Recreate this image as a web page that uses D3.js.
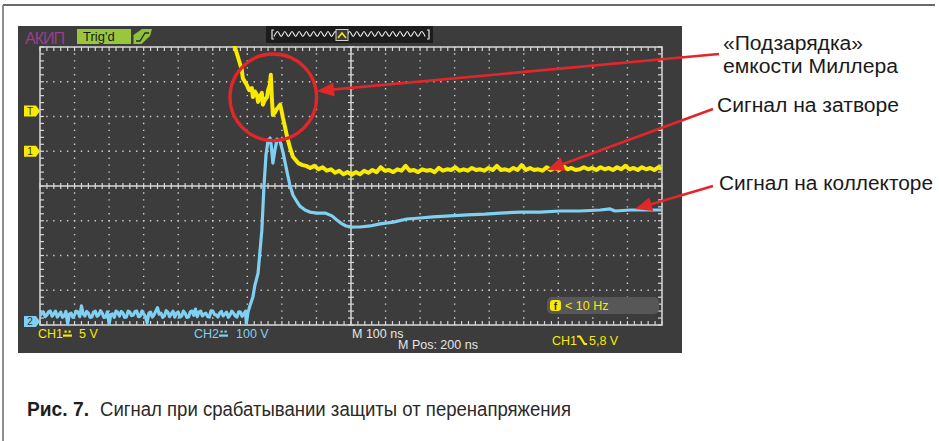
<!DOCTYPE html>
<html><head><meta charset="utf-8">
<script src="https://cdn.jsdelivr.net/npm/d3@7"></script>
<style>body{margin:0;background:#fff} svg{display:block} text{font-family:"Liberation Sans",Arial,sans-serif}</style>
</head><body><svg id="c" width="939" height="441"></svg>
<script>
// ---------- DATA ----------
// CH1 (gate), volts vs time in ns (screen spans 0..1800 ns)
const ch1Time = [548,564,575,584,587,593,599,605,613,616,622,628,631,637,642,645,651,657,660,665,668,671,674,680,684,689,695,700,703,709,715,723,732,747,760,
770,782,794,806,818,830,842,854,866,878,890,902,914,926,938,950,962,974,986,998,1010,1022,1034,1046,1058,1070,1082,1094,1106,1118,1130,1142,1154,1166,1178,1190,1202,1214,1226,1238,1250,1262,1274,1286,1298,1310,1322,1334,1346,1358,1370,1382,1394,1406,1418,1430,1442,1454,1466,1478,1490,1502,1514,1526,1538,1550,1562,1574,1586,1598,1610,1622,1634,1646,1658,1670,1682,1694,1706,1718,1730,1742,1754,1766,1778,1790,1800];
const ch1Volts = [16.8,15.0,13.2,11.7,10.5,10.0,9.5,8.8,9.1,7.8,8.6,8.1,7.1,7.9,8.4,6.7,7.4,7.8,8.8,9.5,11.0,7.7,5.2,5.6,6.0,6.3,6.7,5.6,4.8,3.5,2.1,0.6,-0.8,-1.7,-2.0,
-2.1,-2.4,-2.1,-2.6,-2.3,-2.8,-2.6,-3.1,-2.8,-3.3,-3.0,-3.4,-3.0,-3.3,-2.8,-3.1,-2.7,-3.0,-2.3,-2.8,-2.7,-3.0,-2.6,-2.8,-2.1,-2.8,-2.7,-3.0,-2.6,-2.8,-2.7,-3.0,-2.4,-2.8,-2.6,-2.7,-2.3,-2.8,-2.6,-2.8,-2.4,-2.7,-2.6,-2.8,-2.4,-2.7,-2.1,-2.7,-2.6,-2.8,-2.4,-2.7,-2.0,-2.7,-2.4,-2.7,-2.6,-2.8,-2.3,-2.7,-2.4,-2.7,-2.1,-2.6,-2.4,-2.7,-2.6,-2.3,-2.6,-2.4,-2.7,-2.3,-2.6,-2.4,-2.7,-2.3,-2.6,-2.1,-2.6,-2.4,-2.7,-2.3,-2.6,-2.4,-2.7,-2.3,-2.6];
// CH2 (collector), volts vs time in ns
const ch2Time = [0,5,10,15,20,25,30,35,40,45,50,55,60,65,70,75,80,85,90,95,100,105,110,115,120,125,130,135,140,145,150,155,160,165,170,175,180,185,190,195,200,205,210,215,220,225,230,235,240,245,250,255,260,265,270,275,280,285,290,295,300,305,310,315,320,325,330,335,340,345,350,355,360,365,370,375,380,385,390,395,400,405,410,415,420,425,430,435,440,445,450,455,460,465,470,475,480,485,490,495,500,505,510,515,520,525,530,535,540,545,550,555,560,565,570,575,580,585,590,595,597,
602,608,616,622,631,637,642,648,654,660,666,669,674,680,686,695,703,715,723,732,744,752,767,781,802,825,845,859,874,886,903,926,955,984,1022,1062,1100,1137,1187,1236,1288,1331,1389,1447,1505,1563,1621,1650,1664,1708,1751,1800];
const ch2Volts = [16,24,27,14,19,28,30,15,22,30,13,20,27,12,16,29,-6,21,24,12,19,30,27,14,45,22,16,29,24,12,13,27,30,15,19,31,24,12,13,28,-7,20,22,12,30,26,16,29,24,12,13,30,27,17,19,29,30,14,16,30,22,14,-4,24,27,13,19,30,40,21,24,12,16,31,27,14,22,30,13,24,27,13,16,30,24,12,13,28,30,18,36,14,27,30,16,22,24,14,13,31,30,20,19,13,24,29,16,21,27,12,19,30,24,16,13,28,27,15,22,30,-7,
27,47,70,105,139,206,263,387,479,522,528,508,456,494,525,517,488,430,393,364,344,332,321,315,312,312,304,292,281,275,272,272,275,281,286,295,298,301,304,307,309,312,315,315,318,318,321,324,318,321,321,321];

const brandLabel = "АКИП";
const trigState = "Trig'd";
const ch1Label = "CH1", ch1ScaleLabel = "5 V";
const ch2Label = "CH2", ch2ScaleLabel = "100 V";
const timeBaseLabel = "M 100 ns", timePosLabel = "M Pos: 200 ns";
const trigLevel = 5.8, trigLabel = "5,8 V", freqLabel = "< 10 Hz";
const noteMiller = ["«Подзарядка»", "емкости Миллера"];
const noteGate = "Сигнал на затворе";
const noteCollector = "Сигнал на коллекторе";
const captionBold = "Рис. 7.";
const captionText = "Сигнал при срабатывании защиты от перенапряжения";

// ---------- LAYOUT ----------
const gx0 = 40, gx1 = 662, gy0 = 47, gy1 = 325;
const nDivX = 18, nDivY = 8;
const YEL = "#f8ea00", BLU = "#7fd0f2", RED = "#e3262a", GRID = "#cfcfcf";

const svg = d3.select("#c");
const x = d3.scaleLinear().domain([0, 1800]).range([gx0, gx1]);
const y1 = d3.scaleLinear().domain([-25, 15]).range([gy1, gy0]);   // CH1 5 V/div
const y2 = d3.scaleLinear().domain([-10, 790]).range([gy1, gy0]);  // CH2 100 V/div
const xd = d3.scaleLinear().domain([0, nDivX]).range([gx0, gx1]);
const yd = d3.scaleLinear().domain([-nDivY/2, nDivY/2]).range([gy1, gy0]);

// outer frame
svg.append("line").attr("x1",3).attr("y1",5).attr("x2",935).attr("y2",5).attr("stroke","#6a6a6a").attr("stroke-width",2);
svg.append("line").attr("x1",3).attr("y1",5).attr("x2",3).attr("y2",441).attr("stroke","#6a6a6a").attr("stroke-width",1.5);

// scope panel
svg.append("rect").attr("x",18).attr("y",26).attr("width",664).attr("height",327).attr("fill","#3c3c3c");

// header
svg.append("text").attr("x",25).attr("y",43.5).attr("fill","#9b3e8b").attr("font-size",16).attr("textLength",40).text(brandLabel);
svg.append("rect").attr("x",77).attr("y",29).attr("width",54).attr("height",15).attr("fill","#9ac63c");
svg.append("text").attr("x",83).attr("y",41).attr("fill","#1a1a1a").attr("font-size",13).text(trigState);
svg.append("path").attr("d","M133.5,44 L133.5,35 L142,29 L152,29 L150,36 L141.5,44 Z").attr("fill","#8fc23a");
svg.append("path").attr("d","M136,41 L140,41 L145,33 L149,33").attr("fill","none").attr("stroke","#2a2a2a").attr("stroke-width",1.3);
svg.append("rect").attr("x",266).attr("y",26).attr("width",167).attr("height",17).attr("fill","#1c1c1c");
{
  const pts = [];
  for (let px = 274; px <= 427; px += 3.6) pts.push([px, (pts.length % 2) ? 31.5 : 36.5]);
  svg.append("path").attr("d", d3.line().curve(d3.curveMonotoneX)(pts)).attr("fill","none").attr("stroke","#e8e8e8").attr("stroke-width",1.2);
  svg.append("path").attr("d","M274,30 L272,30 L272,39 L274,39").attr("fill","none").attr("stroke","#e8e8e8").attr("stroke-width",1.2);
  svg.append("path").attr("d","M427,30 L429,30 L429,39 L427,39").attr("fill","none").attr("stroke","#e8e8e8").attr("stroke-width",1.2);
  svg.append("rect").attr("x",336).attr("y",29.5).attr("width",12).attr("height",11).attr("fill","#3a3a3a").attr("stroke","#cfcfcf").attr("stroke-width",1);
  svg.append("path").attr("d","M338,38 L342,33 L346,38").attr("fill","none").attr("stroke",YEL).attr("stroke-width",1.6);
}

// grid
const g = svg.append("g");
const minorX = d3.range(0, nDivX*5 + 1).map(i => i/5);
const minorY = d3.range(0, nDivY*5 + 1).map(i => i/5 - nDivY/2);
const stepX = (gx1-gx0)/nDivX/5, stepY = (gy1-gy0)/nDivY/5;
d3.range(1, nDivX).filter(i => i !== nDivX/2).forEach(i => {
  g.append("line").attr("x1",xd(i)).attr("x2",xd(i)).attr("y1",gy0).attr("y2",gy1)
   .attr("stroke",GRID).attr("stroke-width",1.4).attr("stroke-dasharray",`1.4 ${stepY-1.4}`).attr("stroke-dashoffset",0.7);
});
d3.range(-nDivY/2+1, nDivY/2).filter(i => i !== 0).forEach(i => {
  g.append("line").attr("y1",yd(i)).attr("y2",yd(i)).attr("x1",gx0).attr("x2",gx1)
   .attr("stroke",GRID).attr("stroke-width",1.4).attr("stroke-dasharray",`1.4 ${stepX-1.4}`).attr("stroke-dashoffset",0.7);
});
g.append("line").attr("x1",xd(nDivX/2)).attr("x2",xd(nDivX/2)).attr("y1",gy0).attr("y2",gy1).attr("stroke","#d6d6d6").attr("stroke-width",1.5);
g.append("line").attr("y1",yd(0)).attr("y2",yd(0)).attr("x1",gx0).attr("x2",gx1).attr("stroke","#d6d6d6").attr("stroke-width",1.5);
minorX.forEach(v => {
  const px = xd(v);
  g.append("line").attr("x1",px).attr("x2",px).attr("y1",yd(0)-3).attr("y2",yd(0)+3).attr("stroke","#d6d6d6").attr("stroke-width",1.2);
  g.append("line").attr("x1",px).attr("x2",px).attr("y1",gy0).attr("y2",gy0+4).attr("stroke","#d6d6d6").attr("stroke-width",1.2);
  g.append("line").attr("x1",px).attr("x2",px).attr("y1",gy1-4).attr("y2",gy1).attr("stroke","#d6d6d6").attr("stroke-width",1.2);
});
minorY.forEach(v => {
  const py = yd(v);
  g.append("line").attr("y1",py).attr("y2",py).attr("x1",xd(nDivX/2)-3).attr("x2",xd(nDivX/2)+3).attr("stroke","#d6d6d6").attr("stroke-width",1.2);
  g.append("line").attr("y1",py).attr("y2",py).attr("x1",gx0).attr("x2",gx0+4).attr("stroke","#d6d6d6").attr("stroke-width",1.2);
  g.append("line").attr("y1",py).attr("y2",py).attr("x1",gx1-4).attr("x2",gx1).attr("stroke","#d6d6d6").attr("stroke-width",1.2);
});
g.append("rect").attr("x",gx0).attr("y",gy0).attr("width",gx1-gx0).attr("height",gy1-gy0).attr("fill","none").attr("stroke","#d9d9d9").attr("stroke-width",1.5);

// traces
svg.append("clipPath").attr("id","clip").append("rect").attr("x",gx0).attr("y",gy0-1).attr("width",gx1-gx0).attr("height",gy1-gy0+2);
const tr = svg.append("g").attr("clip-path","url(#clip)");
const ch1 = ch1Time.map((t,i) => [t, ch1Volts[i]]);
const ch2 = ch2Time.map((t,i) => [t, ch2Volts[i]]);
tr.append("path").attr("d", d3.line().x(d => x(d[0])).y(d => y2(d[1]))(ch2))
  .attr("fill","none").attr("stroke",BLU).attr("stroke-width",3.2).attr("stroke-linejoin","round");
tr.append("path").attr("d", d3.line().x(d => x(d[0])).y(d => y1(d[1]))(ch1))
  .attr("fill","none").attr("stroke",YEL).attr("stroke-width",4).attr("stroke-linejoin","round");

// channel markers
function flag(yc, color, label) {
  svg.append("path").attr("d",`M24,${yc-5.5} L36,${yc-5.5} L40,${yc} L36,${yc+5.5} L24,${yc+5.5} Z`).attr("fill",color);
  svg.append("text").attr("x",30).attr("y",yc+3.8).attr("text-anchor","middle").attr("font-size",10).attr("fill","#333").text(label);
}
flag(y1(trigLevel), YEL, "T");
flag(y1(0), YEL, "1");
flag(y2(0), BLU, "2");

// bottom status
const fs = 12.5;
svg.append("text").attr("x",38).attr("y",338).attr("fill",YEL).attr("font-size",fs).text(ch1Label);
svg.append("rect").attr("x",63).attr("y",334.5).attr("width",9).attr("height",2.2).attr("fill",YEL);
svg.append("rect").attr("x",64.5).attr("y",330.5).attr("width",2.2).attr("height",2.2).attr("fill",YEL);
svg.append("rect").attr("x",68.5).attr("y",330.5).attr("width",2.2).attr("height",2.2).attr("fill",YEL);
svg.append("text").attr("x",79).attr("y",338).attr("fill",YEL).attr("font-size",fs).text(ch1ScaleLabel);
svg.append("text").attr("x",194).attr("y",338).attr("fill",BLU).attr("font-size",fs).text(ch2Label);
svg.append("rect").attr("x",219).attr("y",334.5).attr("width",9).attr("height",2.2).attr("fill",BLU);
svg.append("rect").attr("x",220.5).attr("y",330.5).attr("width",2.2).attr("height",2.2).attr("fill",BLU);
svg.append("rect").attr("x",224.5).attr("y",330.5).attr("width",2.2).attr("height",2.2).attr("fill",BLU);
svg.append("text").attr("x",236).attr("y",338).attr("fill",BLU).attr("font-size",fs).text(ch2ScaleLabel);
svg.append("text").attr("x",352).attr("y",338).attr("fill","#e6e6e6").attr("font-size",fs).text(timeBaseLabel);
svg.append("text").attr("x",398).attr("y",349).attr("fill","#e6e6e6").attr("font-size",fs).text(timePosLabel);
svg.append("text").attr("x",552).attr("y",345).attr("fill",YEL).attr("font-size",fs).text(ch1Label);
svg.append("path").attr("d","M577,336.5 L580,336.5 L584.5,344 L587,344").attr("fill","none").attr("stroke",YEL).attr("stroke-width",2.2);
svg.append("text").attr("x",589).attr("y",345).attr("fill",YEL).attr("font-size",fs).text(trigLabel);
svg.append("rect").attr("x",547).attr("y",297).attr("width",112).attr("height",17).attr("rx",5).attr("fill","#575757");
svg.append("rect").attr("x",550).attr("y",300).attr("width",11).attr("height",11).attr("rx",3).attr("fill",YEL);
svg.append("text").attr("x",555.5).attr("y",309.5).attr("text-anchor","middle").attr("font-size",10).attr("font-weight","bold").attr("fill","#333").text("f");
svg.append("text").attr("x",565).attr("y",310).attr("fill",YEL).attr("font-size",12.5).text(freqLabel);

// annotations
svg.append("circle").attr("cx",273.3).attr("cy",97.3).attr("r",43.3).attr("fill","none").attr("stroke",RED).attr("stroke-width",3.3);
function arrow(sx, sy, tx, ty) {
  const dx = tx - sx, dy = ty - sy, L = Math.hypot(dx, dy), ux = dx/L, uy = dy/L;
  const bx = tx - ux*17, by = ty - uy*17, nx = -uy, ny = ux;
  svg.append("line").attr("x1",sx).attr("y1",sy).attr("x2",bx+ux*2).attr("y2",by+uy*2).attr("stroke",RED).attr("stroke-width",2.6);
  svg.append("path").attr("d",`M${tx},${ty} L${bx+nx*7},${by+ny*7} L${bx-nx*7},${by-ny*7} Z`).attr("fill",RED);
}
arrow(719, 54, 317, 91);
arrow(713, 109, 547, 170);
arrow(713, 186, 635, 209);

const af = 19.5;
svg.append("text").attr("x",723).attr("y",50).attr("font-size",af).attr("fill","#1a1a1a").attr("textLength",140).attr("lengthAdjust","spacingAndGlyphs").text(noteMiller[0]);
svg.append("text").attr("x",723).attr("y",73).attr("font-size",af).attr("fill","#1a1a1a").attr("textLength",175).attr("lengthAdjust","spacingAndGlyphs").text(noteMiller[1]);
svg.append("text").attr("x",717).attr("y",112).attr("font-size",af).attr("fill","#1a1a1a").attr("textLength",182).attr("lengthAdjust","spacingAndGlyphs").text(noteGate);
svg.append("text").attr("x",719).attr("y",190).attr("font-size",af).attr("fill","#1a1a1a").attr("textLength",214).attr("lengthAdjust","spacingAndGlyphs").text(noteCollector);

// caption
svg.append("text").attr("x",27).attr("y",416).attr("font-size",20).attr("font-weight","bold").attr("fill","#1e1e1e").attr("textLength",62).attr("lengthAdjust","spacingAndGlyphs").text(captionBold);
svg.append("text").attr("x",100).attr("y",416).attr("font-size",20).attr("fill","#2a2a2a").attr("textLength",471).attr("lengthAdjust","spacingAndGlyphs").text(captionText);
</script></body></html>
